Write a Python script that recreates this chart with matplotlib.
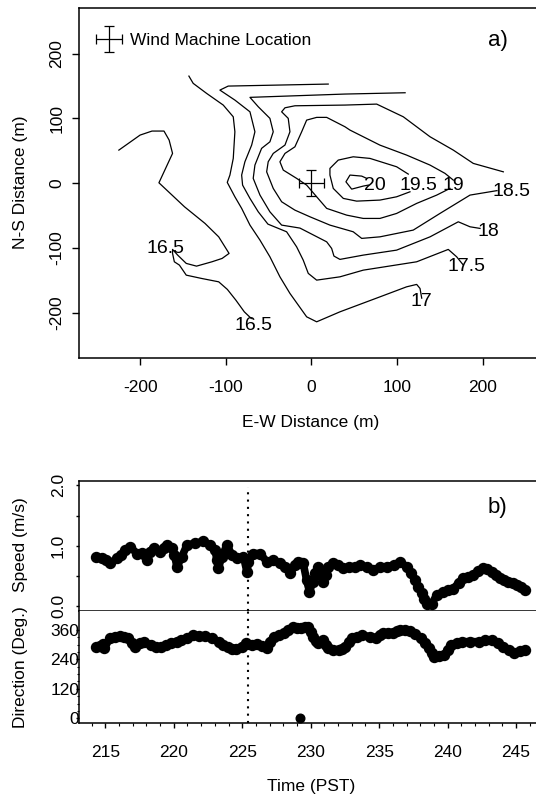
import matplotlib.pyplot as plt
from matplotlib.container import ErrorbarContainer
from matplotlib.legend_handler import HandlerErrorbar

plt.rcParams['font.family'] = ['Liberation Sans', 'DejaVu Sans']
plt.rcParams['axes.unicode_minus'] = False

# ---- panel a): contour lines (E-W, N-S in m) ----
c165_x = [-224.8, -200.0, -186.1, -172.1, -166.1, -162.1, -178.0, -148.1, -124.2, -108.2, -96.1,
          -104.2, -116.1, -134.1, -146.1, -156.1, -162.1, -162.1, -160.0, -154.1, -146.1, -128.2,
          -108.2, -98.1, -88.2, -78.3, -70.2]
c165_y = [51.2, 74.4, 80.6, 80.6, 66.7, 46.1, 0.8, -36.3, -61.9, -82.6, -108.2, -115.9, -121.1,
          -127.8, -123.6, -110.8, -102.0, -108.2, -121.1, -126.2, -141.7, -146.8, -152.0, -163.7,
          -180.2, -198.3, -208.5]
c17_x = [-143.0, -138.0, -122.3, -102.9, -91.2, -89.3, -91.2, -95.1, -98.2, -89.3, -81.4, -71.7,
         -60.0, -48.4, -36.7, -25.0, -5.5, 6.2, 33.4, 80.1, 111.3, 123.0, 126.9, 128.9]
c17_y = [165.4, 154.2, 138.7, 120.7, 102.6, 79.5, 38.4, 12.7, 1.4, -20.8, -38.7, -64.5, -87.7,
         -113.4, -144.3, -169.9, -206.0, -213.7, -198.3, -175.2, -159.7, -156.0, -162.2, -177.2]
c175_x = [19.7, -97.1, -106.8, -89.3, -71.7, -65.9, -69.7, -77.6, -81.4, -80.3, -71.7, -62.0,
          -50.7, -28.9, -17.2, -9.5, -3.6, 6.2, 33.4, 60.6, 123.0, 159.9, 169.7, 177.5]
c175_y = [153.1, 150.0, 143.8, 128.4, 110.3, 79.5, 59.0, 33.2, 12.7, -2.8, -23.3, -44.0, -63.0,
          -74.8, -98.0, -118.5, -139.0, -149.4, -144.3, -134.0, -121.1, -102.0, -113.4, -126.2]
c18_x = [109.5, 39.3, -71.7, -62.0, -48.4, -44.5, -48.4, -58.1, -65.9, -67.9, -60.0, -48.4, -34.7,
         -13.3, 17.9, 23.7, 26.4, 33.4, 60.6, 99.6, 138.6, 171.6, 185.3, 197.0]
c18_y = [139.7, 137.7, 132.6, 118.1, 100.2, 79.5, 64.0, 53.9, 28.1, 7.6, -18.2, -44.0, -64.5,
         -69.1, -90.3, -100.5, -112.3, -117.4, -110.8, -103.1, -82.6, -59.4, -67.1, -69.6]
c185_x = [224.2, 189.1, 165.8, 138.6, 107.4, 76.3, 39.3, -19.2, -30.8, -34.7, -27.0, -25.0, -30.8,
          -44.5, -50.4, -52.2, -44.5, -34.7, -19.2, -1.6, 21.7, 48.9, 58.8, 80.1, 119.0, 150.2,
          185.3, 208.6, 216.8]
c185_y = [17.7, 30.7, 51.2, 71.8, 102.6, 122.2, 120.7, 119.6, 116.5, 110.3, 100.2, 79.5, 59.0,
          46.1, 33.2, 17.7, -7.9, -28.5, -41.4, -51.7, -64.5, -74.8, -85.0, -82.6, -72.2, -46.5,
          -18.2, -13.1, -11.3]
c19_x = [165.8, 156.1, 138.6, 111.3, 80.1, 45.1, 39.3, 17.9, 6.2, -5.5, -11.3, -19.2, -30.8, -36.7,
         -32.8, -17.2, -5.5, 6.2, 17.9, 41.2, 60.6, 80.1, 99.6, 123.0, 146.4, 161.9]
c19_y = [4.9, 15.3, 28.1, 43.5, 58.9, 82.1, 87.2, 101.7, 101.7, 97.5, 79.5, 56.3, 46.1, 33.2, 20.4,
         7.6, -2.8, -20.8, -38.7, -49.1, -54.2, -54.2, -46.5, -31.0, -18.2, -7.9]
c195_x = [113.2, 99.6, 68.5, 48.9, 31.4, 21.7, 21.7, 25.6, 37.3, 52.9, 80.1, 99.6, 115.2]
c195_y = [14.2, 25.5, 38.4, 40.9, 35.8, 23.0, 12.7, -7.9, -23.3, -27.5, -25.9, -20.8, -13.1]
c20_x = [64.6, 58.8, 45.1, 40.4, 47.1, 60.6, 66.5]
c20_y = [7.6, 11.1, 12.7, 2.3, -9.0, -4.3, -2.8]

# contour labels
lab_text = ['20', '19.5', '19', '18.5', '18', '17.5', '17', '16.5', '16.5']
lab_x = [74.3, 124.9, 165.8, 234.0, 206.7, 180.7, 128.9, -170.1, -67.4]
lab_y = [-2.8, -2.8, -2.8, -13.1, -74.8, -128.9, -182.9, -100.5, -218.8]

# wind machine location and its uncertainty (m)
machine_x = [0]
machine_y = [0]
machine_xerr = [15]
machine_yerr = [20]

# ---- panel b): wind speed and direction vs time ----
spd_t = [214.35, 214.75, 215.05, 215.36, 215.85, 216.15, 216.45, 216.82, 217.31, 217.65, 217.91,
         218.05, 218.25, 218.52, 219.0, 219.25, 219.5, 219.86, 220.05, 220.23, 220.59, 220.96,
         221.56, 222.17, 222.66, 223.02, 223.15, 223.26, 223.51, 223.88, 224.24, 224.61, 225.09,
         225.34, 225.45, 225.82, 226.31, 226.8, 227.28, 227.77, 228.15, 228.5, 228.85, 229.1,
         229.3, 229.45, 229.7, 229.91, 230.15, 230.32, 230.56, 230.75, 230.93, 231.1, 231.29,
         231.66, 232.0, 232.39, 232.8, 233.2, 233.61, 234.1, 234.58, 235.05, 235.55, 236.05,
         236.53, 237.01, 237.3, 237.62, 237.85, 238.11, 238.3, 238.47, 238.84, 239.2, 239.69,
         240.05, 240.42, 240.8, 241.15, 241.5, 241.88, 242.25, 242.61, 242.9, 243.22, 243.5,
         243.83, 244.13, 244.43, 244.74, 245.04, 245.35, 245.65]
speed = [0.81, 0.79, 0.76, 0.71, 0.79, 0.84, 0.93, 0.98, 0.87, 0.88, 0.85, 0.77, 0.90, 0.96, 0.90,
         0.96, 1.01, 0.96, 0.85, 0.65, 0.82, 1.01, 1.04, 1.07, 1.01, 0.93, 0.76, 0.63, 0.82, 1.01,
         0.85, 0.79, 0.82, 0.57, 0.73, 0.87, 0.87, 0.73, 0.76, 0.71, 0.65, 0.54, 0.68, 0.73, 0.72,
         0.71, 0.43, 0.24, 0.40, 0.54, 0.65, 0.52, 0.40, 0.52, 0.65, 0.71, 0.68, 0.63, 0.64, 0.65,
         0.68, 0.64, 0.60, 0.64, 0.65, 0.68, 0.73, 0.65, 0.55, 0.43, 0.32, 0.21, 0.11, 0.04, 0.04,
         0.18, 0.24, 0.26, 0.29, 0.38, 0.46, 0.48, 0.51, 0.58, 0.63, 0.61, 0.57, 0.52, 0.46, 0.43,
         0.40, 0.38, 0.35, 0.31, 0.27]

dir_t = [214.31, 214.6, 214.82, 214.94, 215.31, 215.7, 216.06, 216.4, 216.69, 216.95, 217.18,
         217.5, 217.81, 218.31, 218.7, 219.06, 219.45, 219.8, 220.2, 220.56, 221.0, 221.43,
         221.85, 222.3, 222.8, 223.3, 223.6, 223.93, 224.25, 224.55, 224.95, 225.3, 225.7,
         226.05, 226.45, 226.8, 227.05, 227.3, 227.65, 228.05, 228.35, 228.67, 229.0, 229.29,
         229.55, 229.79, 230.0, 230.16, 230.35, 230.53, 230.91, 231.1, 231.28, 231.65, 232.04,
         232.3, 232.53, 232.8, 233.03, 233.4, 233.78, 234.3, 234.78, 235.05, 235.28, 235.65,
         236.03, 236.3, 236.53, 236.9, 237.28, 237.65, 238.02, 238.35, 238.65, 238.85, 239.02,
         239.4, 239.77, 240.0, 240.27, 240.65, 241.02, 241.65, 242.27, 242.75, 243.26, 243.65,
         244.01, 244.45, 244.88, 245.25, 245.63]
direction = [291, 296, 302, 285, 325, 330, 335, 330, 325, 305, 291, 305, 312, 298, 292, 291, 298,
             308, 310, 319, 328, 339, 336, 335, 325, 312, 298, 289, 284, 281, 292, 305, 300, 302,
             295, 285, 312, 332, 338, 346, 360, 370, 366, 366, 370, 373, 350, 332, 315, 305, 319,
             300, 285, 280, 278, 283, 291, 310, 325, 332, 339, 332, 325, 338, 346, 346, 348, 355,
             359, 358, 356, 342, 325, 305, 285, 265, 251, 255, 258, 280, 298, 307, 312, 312, 312,
             318, 319, 305, 291, 278, 264, 272, 278]
# single stray direction reading
dir_out_t = [229.25]
dir_out = [0]

event_time = 225.45  # dotted marker line

time_ticks = [215, 220, 225, 230, 235, 240, 245]

# ---- layout (pixel boxes of the 536x798 figure) ----
W, H = 536, 798


def box(left, top, right, bottom):
    return [left / W, 1 - bottom / H, (right - left) / W, (bottom - top) / H]


fig = plt.figure(figsize=(W / 100, H / 100), dpi=100)
ax_map = fig.add_axes(box(79.3, 8.3, 543.4, 358.3))
ax_spd = fig.add_axes(box(79.3, 480.6, 543.5, 610.7))
ax_dir = fig.add_axes(box(79.3, 610.7, 543.5, 722.5))

FS = 12.5
lw_c = 0.9

# contours
for xs, ys in [(c165_x, c165_y), (c17_x, c17_y), (c175_x, c175_y), (c18_x, c18_y),
               (c185_x, c185_y), (c19_x, c19_y), (c195_x, c195_y), (c20_x, c20_y)]:
    ax_map.plot(xs, ys, color='black', lw=lw_c)
for t, x, y in zip(lab_text, lab_x, lab_y):
    ax_map.text(x, y, t, ha='center', va='center', fontsize=14)

eb = ax_map.errorbar(machine_x, machine_y, xerr=machine_xerr, yerr=machine_yerr, fmt='none',
                     ecolor='black', elinewidth=lw_c, capsize=3.5, capthick=lw_c)
ax_map.legend([eb], ['Wind Machine Location'], loc='upper left', bbox_to_anchor=(0, 0.975),
              frameon=False, fontsize=FS, handlelength=1.6, handletextpad=0.4, borderaxespad=0.5,
              handler_map={ErrorbarContainer: HandlerErrorbar(xerr_size=0.75)})

ax_map.set_xlim(-271, 271)
ax_map.set_ylim(-270, 270)
ax_map.set_xticks([-200, -100, 0, 100, 200])
ax_map.set_yticks([-200, -100, 0, 100, 200])
ax_map.tick_params(axis='x', direction='out', length=5, width=1, labelsize=FS, pad=10.5)
ax_map.tick_params(axis='y', direction='out', length=5.4, width=1, labelsize=FS, pad=5.5,
                   labelrotation=90)
for lab in ax_map.get_yticklabels():
    lab.set_va('center')
ax_map.text(0.902, 0.907, 'a)', transform=ax_map.transAxes, ha='center', va='center', fontsize=16)

# speed
ax_spd.plot(spd_t, speed, color='black', lw=5.5, marker='o', ms=7.2, mec='black', mfc='black',
            solid_capstyle='round', solid_joinstyle='round')
ax_spd.axvline(event_time, ymax=0.95, color='black', lw=1.5, ls=(0, (1, 2.5)))
ax_spd.set_xlim(213.1, 247.0)
ax_spd.set_ylim(-0.078, 2.08)
ax_spd.set_yticks([0, 1, 2])
ax_spd.set_yticklabels(['0.0', '1.0', '2.0'])
ax_spd.set_yticks([0.5, 1.5], minor=True)
ax_spd.set_xticks([])
ax_spd.tick_params(axis='y', which='both', direction='out', length=2, width=1, labelsize=FS,
                   pad=7.5, labelrotation=90)
for lab in ax_spd.get_yticklabels():
    lab.set_va('center')
ax_spd.spines['right'].set_visible(False)
ax_spd.text(0.9, 0.793, 'b)', transform=ax_spd.transAxes, ha='center', va='center', fontsize=16)

# direction
ax_dir.plot(dir_t, direction, color='black', lw=5.5, marker='o', ms=7.2, mec='black', mfc='black',
            solid_capstyle='round', solid_joinstyle='round')
ax_dir.plot(dir_out_t, dir_out, 'o', color='black', ms=6.2, clip_on=False)
ax_dir.axvline(event_time, color='black', lw=1.5, ls=(0, (1, 2.5)))
ax_dir.set_xlim(213.1, 247.0)
ax_dir.set_ylim(-17, 438)
ax_dir.set_yticks([0, 120, 240, 360])
ax_dir.set_yticks(list(range(30, 360, 30)), minor=True)
ax_dir.set_xticks(time_ticks)
ax_dir.set_xticks(list(range(214, 247)), minor=True)
ax_dir.tick_params(axis='y', which='major', direction='out', length=2, width=1, labelsize=FS,
                   pad=-2)
ax_dir.tick_params(axis='y', which='minor', direction='out', length=1.5, width=0.8)
ax_dir.tick_params(axis='x', which='major', direction='out', length=3.4, width=1, labelsize=FS,
                   pad=13)
ax_dir.tick_params(axis='x', which='minor', direction='out', length=2, width=0.8)
ax_dir.spines['top'].set_visible(False)
ax_dir.spines['right'].set_visible(False)

for ax in (ax_map, ax_spd, ax_dir):
    for s in ax.spines.values():
        s.set_linewidth(1.1)

# axis titles
fig.text(20.5 / W, 1 - 182 / H, 'N-S Distance (m)', rotation=90, ha='center', va='center',
         fontsize=FS)
fig.text(311 / W, 1 - 422 / H, 'E-W Distance (m)', ha='center', va='center', fontsize=FS)
fig.text(20.5 / W, 1 - 545 / H, 'Speed (m/s)', rotation=90, ha='center', va='center', fontsize=FS)
fig.text(20.5 / W, 1 - 667 / H, 'Direction (Deg.)', rotation=90, ha='center', va='center',
         fontsize=FS)
fig.text(311 / W, 1 - 787 / H, 'Time (PST)', ha='center', va='center', fontsize=FS)

fig.savefig('out.png', dpi=100)
